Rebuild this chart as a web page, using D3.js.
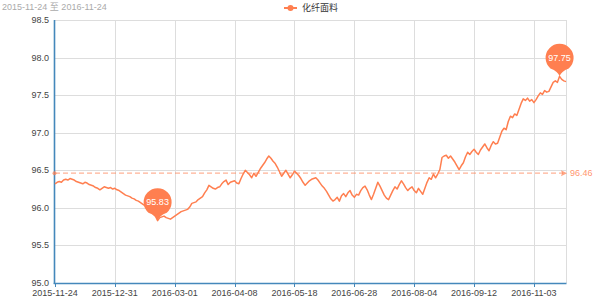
<!DOCTYPE html>
<html>
<head>
<meta charset="utf-8">
<script src="https://cdn.jsdelivr.net/npm/d3@7"></script>
<style>
html,body{margin:0;padding:0;background:#fff;}
svg{display:block;font-family:"Liberation Sans",Arial,"Noto Sans CJK SC",sans-serif;}
</style>
</head>
<body>
<svg id="chart" width="600" height="303"></svg>
<script>
// ---- data ----
const titleText = "2015-11-24 至 2016-11-24";
const seriesName = "化纤面料";
const xLabels = ["2015-11-24","2015-12-31","2016-03-01","2016-04-08","2016-05-18","2016-06-28","2016-08-04","2016-09-12","2016-11-03"];
const labelInterval = 28;
const yTicks = [95.0,95.5,96.0,96.5,97.0,97.5,98.0,98.5];
const values = [
96.32,96.34,96.35,96.34,96.37,96.38,96.37,96.39,96.38,96.37,
96.35,96.34,96.33,96.32,96.34,96.33,96.31,96.30,96.29,96.27,
96.26,96.24,96.26,96.28,96.27,96.26,96.27,96.25,96.26,96.24,
96.23,96.21,96.19,96.17,96.16,96.15,96.13,96.12,96.10,96.09,
96.07,96.05,96.03,96.00,95.98,95.95,95.92,95.89,95.83,95.87,
95.88,95.89,95.87,95.86,95.85,95.87,95.89,95.91,95.93,95.95,
95.96,95.97,95.98,96.01,96.06,96.07,96.08,96.11,96.13,96.15,
96.20,96.24,96.30,96.28,96.26,96.25,96.27,96.28,96.32,96.35,
96.37,96.31,96.34,96.35,96.36,96.33,96.32,96.39,96.45,96.50,
96.47,96.44,96.40,96.46,96.42,96.47,96.52,96.56,96.60,96.65,
96.69,96.66,96.62,96.59,96.54,96.48,96.42,96.46,96.50,96.45,
96.40,96.44,96.49,96.46,96.43,96.39,96.34,96.30,96.33,96.36,
96.38,96.39,96.40,96.37,96.33,96.29,96.26,96.22,96.17,96.12,
96.09,96.11,96.14,96.09,96.16,96.19,96.15,96.20,96.23,96.17,
96.14,96.18,96.17,96.23,96.27,96.29,96.24,96.17,96.11,96.18,
96.26,96.34,96.29,96.23,96.17,96.13,96.11,96.17,96.23,96.28,
96.25,96.31,96.36,96.32,96.27,96.23,96.26,96.28,96.23,96.20,
96.26,96.22,96.18,96.26,96.34,96.40,96.38,96.45,96.40,96.45,
96.51,96.67,96.69,96.70,96.66,96.69,96.65,96.61,96.56,96.51,
96.56,96.60,96.68,96.74,96.71,96.75,96.78,96.74,96.71,96.77,
96.81,96.85,96.80,96.76,96.83,96.88,96.85,96.86,96.94,97.02,
97.06,97.04,97.15,97.22,97.20,97.25,97.23,97.31,97.39,97.45,
97.43,97.46,97.42,97.44,97.40,97.44,97.49,97.53,97.51,97.56,
97.54,97.55,97.61,97.67,97.69,97.67,97.75,97.71,97.69,97.68
];

// ---- styles ----
const COLOR = "#ff7f50";
const AXIS = "#4488bb";
const GRID = "#dddddd";
const LABEL = "#444";

const svg = d3.select("#chart");
const L = 55, R = 566, T = 20, B = 283;

const x = d3.scaleLinear().domain([0, values.length - 1]).range([L, R]);
const y = d3.scaleLinear().domain([95, 98.5]).range([B, T]);

// grid
const g = svg.append("g");
g.selectAll(".hg").data(yTicks).join("line")
  .attr("x1", L).attr("x2", R)
  .attr("y1", d => Math.round(y(d)) + 0.5).attr("y2", d => Math.round(y(d)) + 0.5)
  .attr("stroke", GRID).attr("stroke-width", 1);
const xTickIdx = xLabels.map((d, i) => i * labelInterval);
g.selectAll(".vg").data(xTickIdx.slice(1).concat([values.length - 1])).join("line")
  .attr("x1", d => Math.round(x(d)) + 0.5).attr("x2", d => Math.round(x(d)) + 0.5)
  .attr("y1", T).attr("y2", B)
  .attr("stroke", GRID).attr("stroke-width", 1);

// axes
svg.append("line").attr("x1", L - 0.5).attr("x2", L - 0.5).attr("y1", T).attr("y2", B + 1)
  .attr("stroke", AXIS).attr("stroke-width", 1.6);
svg.append("line").attr("x1", L - 1.3).attr("x2", R + 0.5).attr("y1", B + 0.5).attr("y2", B + 0.5)
  .attr("stroke", AXIS).attr("stroke-width", 1.6);

// x ticks and labels
svg.selectAll(".xt").data(xTickIdx).join("line")
  .attr("x1", d => Math.round(x(d)) + 0.5).attr("x2", d => Math.round(x(d)) + 0.5)
  .attr("y1", B + 1).attr("y2", B + 4).attr("stroke", AXIS).attr("stroke-width", 1);
svg.selectAll(".xl").data(xLabels).join("text")
  .attr("x", (d, i) => x(i * labelInterval)).attr("y", 296)
  .attr("text-anchor", "middle").attr("font-size", 9).attr("fill", LABEL)
  .text(d => d);

// y labels
svg.selectAll(".yl").data(yTicks).join("text")
  .attr("x", 49).attr("y", d => y(d) + 3)
  .attr("text-anchor", "end").attr("font-size", 9).attr("fill", LABEL)
  .text(d => d.toFixed(1));

// title
svg.append("text").attr("x", 2).attr("y", 10).attr("font-size", 9).attr("fill", "#aaa").text(titleText);

// legend
svg.append("line").attr("x1", 284).attr("x2", 297).attr("y1", 8).attr("y2", 8)
  .attr("stroke", COLOR).attr("stroke-width", 2);
svg.append("circle").attr("cx", 290.5).attr("cy", 8).attr("r", 3).attr("fill", COLOR);
svg.append("text").attr("x", 302).attr("y", 11).attr("font-size", 9).attr("fill", "#333").text(seriesName);

// mean mark line
const meanV = d3.mean(values);
const my = y(meanV);
svg.append("line").attr("x1", L).attr("x2", R - 3).attr("y1", my).attr("y2", my)
  .attr("stroke", COLOR).attr("stroke-opacity", 0.6).attr("stroke-width", 1.2)
  .attr("stroke-dasharray", "5,3");
svg.append("circle").attr("cx", L - 0.5).attr("cy", my).attr("r", 2).attr("fill", COLOR).attr("fill-opacity", 0.7);
svg.append("path").attr("d", `M${R + 1},${my} L${R - 5},${my - 3} L${R - 4},${my} L${R - 5},${my + 3} Z`)
  .attr("fill", COLOR).attr("fill-opacity", 0.7);
svg.append("text").attr("x", R + 4).attr("y", my + 3).attr("font-size", 9)
  .attr("fill", COLOR).attr("fill-opacity", 0.85).text(meanV.toFixed(2));

// line
const line = d3.line().x((d, i) => x(i)).y(d => y(d));
svg.append("path").datum(values).attr("d", line)
  .attr("fill", "none").attr("stroke", COLOR).attr("stroke-width", 1.5).attr("stroke-linejoin", "round");

// mark points (max / min)
function pinPath(px, py) {
  const r = 14, dd = 18.5;
  const cy = py - dd;
  const th = Math.acos(r / dd);
  const tx = r * Math.sin(th), ty = r * Math.cos(th);
  return `M${px},${py} Q${px - 1.5},${py - 5} ${px - tx},${cy + ty} A${r},${r} 0 1 1 ${px + tx},${cy + ty} Q${px + 1.5},${py - 5} ${px},${py} Z`;
}
const maxI = d3.maxIndex(values), minI = d3.minIndex(values);
[maxI, minI].forEach(i => {
  const px = x(i), py = y(values[i]);
  svg.append("path").attr("d", pinPath(px, py)).attr("fill", COLOR);
  svg.append("text").attr("x", px).attr("y", py - 18.5 + 3).attr("text-anchor", "middle")
    .attr("font-size", 9).attr("fill", "#fff").text(values[i].toFixed(2));
});
</script>
</body>
</html>
